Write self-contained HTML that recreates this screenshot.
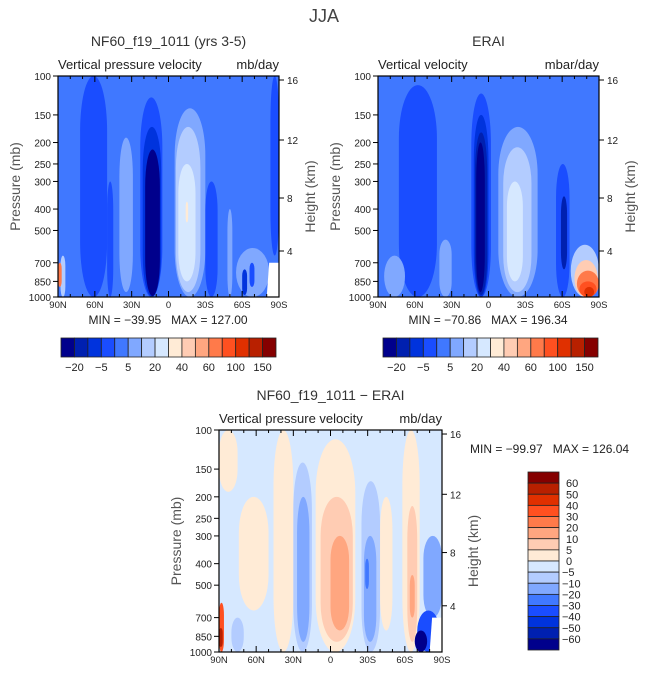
<!DOCTYPE html>
<html><head><meta charset="utf-8"><style>
body{margin:0;background:#fff;}
svg{display:block;font-family:"Liberation Sans",sans-serif;}
text{white-space:pre;}
</style></head><body>
<svg id="fig" width="648" height="676" viewBox="0 0 648 676" xmlns="http://www.w3.org/2000/svg">
<text x="324" y="22" text-anchor="middle" font-size="18" fill="#444">JJA</text>
</svg>
<script>
const palette=["#00008c","#0020b0","#0033dd","#1a4dff","#4078ff","#80a8ff","#b3ccff","#d6e8ff","#ffebd6","#ffccb3","#ffa680","#ff7a4a","#ff5020","#e03000","#b82000","#850000"];
const topLevels=["-20","-5","5","20","40","60","100","150"];
const diffLevels=["60","50","40","30","20","10","5","0","-5","-10","-20","-30","-40","-50","-60"];
const presTicks=[100,150,200,250,300,400,500,700,850,1000];
const heightTicks=[[16,80],[12,140],[8,198],[4,251]];
const latTicks=["90N","60N","30N","0","30S","60S","90S"];
// blobs: [latN, latS, pTop, pBottom, colorIndex]
const modelBlobs=[[72,50,100,1000,3],[50,45,300,1000,3],[40,29,190,950,5],[23,5,125,1000,3],[21,6,170,1000,2],[19,7,215,990,0],[-5,-30,140,1000,5],[-6,-26,170,950,6],[-8,-22,250,850,7],[-14,-16,370,460,8],[-30,-40,300,1000,3],[-48,-52,400,1000,5],[-55,-82,600,1000,5],[-60,-64,750,980,2],[-66,-70,700,900,3],[88,84,650,1000,6],[90,87,700,900,11],[-83,-90,100,650,3]];
const eraBlobs=[[73,42,110,1000,3],[14,-2,120,1000,3],[12,0,150,1000,2],[11,1,180,980,1],[10,3,200,950,0],[-8,-40,170,1000,5],[-12,-35,210,950,6],[-15,-28,300,850,7],[-55,-66,250,1000,3],[-59,-64,350,750,1],[85,68,650,1000,5],[40,30,550,1000,5],[-67,-90,580,1000,6],[-70,-89,680,1000,9],[-72,-90,760,1000,11],[-74,-88,850,1000,12],[-78,-86,900,1000,13]];
const diffBlobs=[[90,75,100,190,8],[74,50,200,650,8],[46,30,100,1000,8],[30,15,140,1000,6],[27,17,200,900,5],[80,70,700,1000,6],[12,-20,110,1000,8],[8,-18,200,900,9],[0,-15,300,800,10],[-25,-40,170,1000,6],[-27,-37,300,900,5],[-28,-31,380,520,4],[-40,-50,200,800,8],[-58,-72,100,1000,8],[-62,-70,220,900,9],[-64,-68,450,700,10],[-75,-90,300,700,5],[-70,-88,650,1000,3],[-68,-78,800,1000,0],[90,86,600,1000,12],[90,87,780,950,14]];
const NS="http://www.w3.org/2000/svg";
const svg=document.getElementById('fig');
function el(t,a,p){const e=document.createElementNS(NS,t);for(const k in a)e.setAttribute(k,a[k]);(p||svg).appendChild(e);return e;}
function txt(s,a,p){const e=el('text',a,p);e.textContent=s;return e;}
function panel(name,x0,y0,w,h,base,blobs,title,left,right,minmax,mmx,mmy,white){
  const g=el('g',{});
  
  
  const X=lat=>x0+(90-lat)/180*w;
  const Y=p=>y0+Math.log10(p/100)*h;
  const clip=el('clipPath',{id:name+'-clip'},g);
  el('rect',{x:x0,y:y0,width:w,height:h},clip);
  const pg=el('g',{'clip-path':'url(#'+name+'-clip)'},g);
  const bg=el('rect',{x:x0,y:y0,width:w,height:h,fill:palette[base]},pg);
  
  
  blobs.forEach(b=>{
    const x=X(b[0]),x2=X(b[1]),y=Y(b[2]),y2=Y(b[3]);
    const bw=x2-x,bh=y2-y;
    const r=el('rect',{x:x,y:y,width:bw,height:bh,rx:bw/2,ry:Math.min(bh/2,Math.max(bw*1.2,bh/4)),fill:palette[b[4]]},pg);
    
    
  });
  if(white){const t=el('polygon',{points:`${X(-80)},${Y(1000)} ${X(-82)},${Y(700)} ${X(-90)},${Y(700)} ${X(-90)},${Y(1000)}`,fill:'#fff'},pg);
    }
  el('rect',{x:x0,y:y0,width:w,height:h,fill:'none',stroke:'#000','stroke-width':1.2},g);
  for(let l=90;l>=-90;l-=10){const x=X(l),len=(l%30==0)?6:3;
    el('line',{x1:x,y1:y0+h,x2:x,y2:y0+h-len,stroke:'#000'},g);
    el('line',{x1:x,y1:y0,x2:x,y2:y0+len,stroke:'#000'},g);}
  latTicks.forEach((s,i)=>{const t=txt(s,{x:x0+i*w/6,y:y0+h+11,'text-anchor':'middle','font-size':9.5,fill:'#222'},g);
    });
  presTicks.forEach(p=>{const y=Y(p);el('line',{x1:x0-5,y1:y,x2:x0,y2:y,stroke:'#000'},g);
    const t=txt(String(p),{x:x0-7,y:y+4,'text-anchor':'end','font-size':10,fill:'#222'},g);
    });
  heightTicks.forEach(hk=>{const y=y0+(hk[1]-76)/221*h;el('line',{x1:x0+w,y1:y,x2:x0+w+5,y2:y,stroke:'#000'},g);
    const t=txt(String(hk[0]),{x:x0+w+8,y:y+4,'font-size':10,fill:'#222'},g);
    });
  let t=txt('Pressure (mb)',{x:0,y:0,transform:`translate(${x0-38},${y0+h/2}) rotate(-90)`,'text-anchor':'middle','font-size':14,fill:'#555'},g);
  
  t=txt('Height (km)',{x:0,y:0,transform:`translate(${x0+w+36},${y0+h/2+10}) rotate(-90)`,'text-anchor':'middle','font-size':14,fill:'#555'},g);
  
  t=txt(title,{x:x0+w/2,y:y0-30,'text-anchor':'middle','font-size':14,fill:'#333'},g);
  
  t=txt(left,{x:x0,y:y0-7,'font-size':13,fill:'#222'},g);
  
  t=txt(right,{x:x0+w,y:y0-7,'text-anchor':'end','font-size':13,fill:'#222'},g);
  
  t=txt(minmax,{x:mmx,y:mmy,'text-anchor':mmx<x0+w?'middle':'start','font-size':12,fill:'#222'},g);
  
}
function hbar(name,x0,y0,w,h){
  const g=el('g',{});
  const bw=w/16;
  palette.forEach((c,i)=>{const r=el('rect',{x:x0+i*bw,y:y0,width:bw,height:h,fill:c,stroke:'#222','stroke-width':0.8},g);
    });
  topLevels.forEach((s,i)=>{const t=txt(s.replace('-','\u2212'),{x:x0+(2*i+1)*bw,y:y0+h+14,'text-anchor':'middle','font-size':11,fill:'#222'},g);
    });
}
panel('model-panel',58,76,221,221,4,modelBlobs,'NF60_f19_1011 (yrs 3-5)','Vertical pressure velocity','mb/day','MIN = \u221239.95   MAX = 127.00',168,324,true);
panel('erai-panel',378,76,221,221,4,eraBlobs,'ERAI','Vertical velocity','mbar/day','MIN = \u221270.86   MAX = 196.34',488,324,false);
panel('diff-panel',219,430,223,222,7,diffBlobs,'NF60_f19_1011 \u2212 ERAI','Vertical pressure velocity','mb/day','MIN = \u221299.97   MAX = 126.04',470,453,true);
hbar('model-colorbar',61,338,215,19);
hbar('erai-colorbar',383,338,215,19);
(function(){
  const g=el('g',{});
  const x0=528,y0=472,w=31,bh=178/16;
  for(let i=0;i<16;i++){const r=el('rect',{x:x0,y:y0+i*bh,width:w,height:bh,fill:palette[15-i],stroke:'#222','stroke-width':0.8},g);
    }
  diffLevels.forEach((s,i)=>{const t=txt(s.replace('-','\u2212'),{x:s[0]=='-'?x0+w+3:x0+w+7,y:y0+(i+1)*bh+4,'font-size':11,fill:'#222'},g);
    });
})();
</script>
</body></html>
